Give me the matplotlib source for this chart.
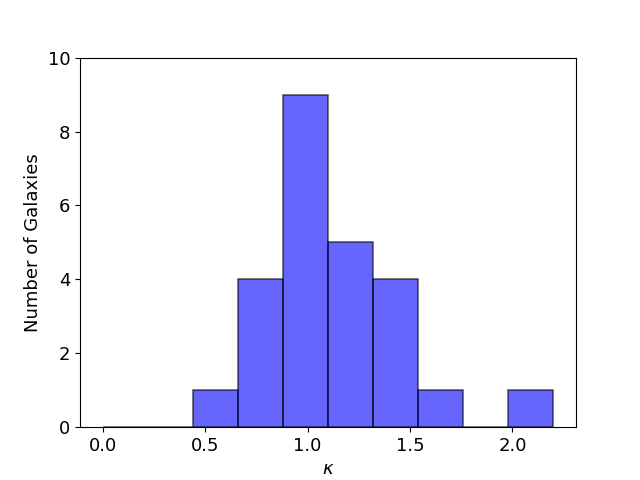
import numpy as np
import matplotlib
matplotlib.use("Agg")
import matplotlib.pyplot as plt

bin_edges = np.linspace(0.0, 2.2, 11)
counts = [0, 0, 1, 4, 9, 5, 4, 1, 0, 1]

fig, ax = plt.subplots(figsize=(6.4, 4.8), dpi=100)
ax.stairs(counts, bin_edges, fill=True, color='blue', alpha=0.6)
ax.bar(bin_edges[:-1], counts, width=np.diff(bin_edges), align='edge',
       color='blue', alpha=0.6, edgecolor='black', linewidth=1.2)
ax.cla()
ax.bar(bin_edges[:-1], counts, width=np.diff(bin_edges), align='edge',
       color=(0, 0, 1, 0.6), edgecolor=(0, 0, 0, 0.6), linewidth=1.2)
ax.set_ylim(0, 10)
ax.set_xlabel(r'$\kappa$', fontsize=13)
ax.set_ylabel('Number of Galaxies', fontsize=13)
ax.tick_params(labelsize=13)
fig.savefig('out.png', dpi=100)
